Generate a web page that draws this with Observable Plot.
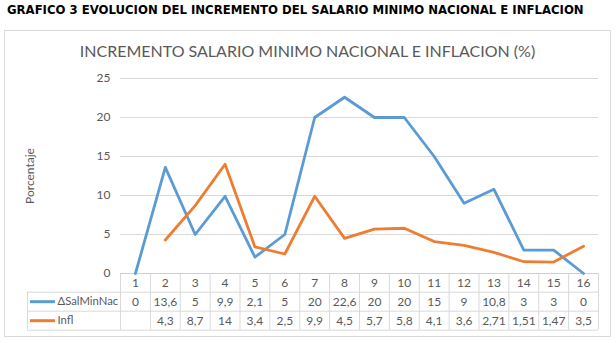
<!DOCTYPE html>
<html><head><meta charset="utf-8">
<script src="https://cdn.jsdelivr.net/npm/d3@7"></script>
<script src="https://cdn.jsdelivr.net/npm/@observablehq/plot@0.6"></script>
<style>
body{margin:0;background:#fff;width:616px;height:343px;position:relative;overflow:hidden;}
#title{position:absolute;left:7px;top:3px;font:bold 11.7px "DejaVu Sans",sans-serif;color:#000;white-space:nowrap;}
#box{position:absolute;left:4px;top:30px;width:607px;height:307px;border:1px solid #d9d9d9;box-sizing:border-box;}
#ctitle{position:absolute;left:4px;width:607px;top:41px;text-align:center;font:16px Lato,sans-serif;color:#595959;white-space:nowrap;}
#chart{position:absolute;left:4px;top:30px;}
</style></head><body>
<div id="title">GRAFICO 3 EVOLUCION DEL INCREMENTO DEL SALARIO MINIMO NACIONAL E INFLACION</div>
<div id="box"></div>
<div id="ctitle">INCREMENTO SALARIO MINIMO NACIONAL E INFLACION (%)</div>
<div id="chart"></div>
<script>
const categories = [1,2,3,4,5,6,7,8,9,10,11,12,13,14,15,16];
const salMinNac = [0,13.6,5,9.9,2.1,5,20,22.6,20,20,15,9,10.8,3,3,0];
const infl = [null,4.3,8.7,14,3.4,2.5,9.9,4.5,5.7,5.8,4.1,3.6,2.71,1.51,1.47,3.5];
const yTicks = [0,5,10,15,20,25];
const seriesNames = ["ΔSalMinNac","Infl"];
const yLabel = "Porcentaje";

const colors = ["#5B9BD5","#ED7D31"];
const grid = "#d9d9d9";
const txt = "#595959";
const rows = categories.map((c,i)=>({cat:c, sal:salMinNac[i], infl:infl[i]}));
const bounds = [categories[0]-0.5, ...categories.map(c=>c+0.5)];
const fmt = v => v == null ? "" : String(v).replace(".", ",");

// table geometry (pixels below the zero line)
const r1 = 18.7, r2 = 37.7, r3 = 56.7;
const legendInset = -93;

const plot = Plot.plot({
  width: 607, height: 307,
  marginLeft: 116, marginRight: 13, marginTop: 48, marginBottom: 64,
  style: {background: "transparent", fontFamily: "Lato, sans-serif", fontSize: "12px", color: txt},
  x: {domain: [bounds[0], bounds[bounds.length-1]], axis: null},
  y: {domain: [0, 25], ticks: yTicks, tickSize: 0, tickPadding: 10, label: null},
  marks: [
    Plot.ruleY(yTicks.filter(t=>t>0), {stroke: grid, strokeWidth: 1}),
    Plot.ruleY([0], {stroke: "#cfcfcf"}),
    // table grid
    Plot.ruleY([0], {dy: r1, insetLeft: legendInset, stroke: grid}),
    Plot.ruleY([0], {dy: r2, insetLeft: legendInset, stroke: grid}),
    Plot.ruleY([0], {dy: r3, insetLeft: legendInset, stroke: grid}),
    Plot.ruleX(bounds, {y1: 0, y2: 0, insetBottom: -r3, stroke: grid}),
    Plot.ruleX([bounds[0]], {y1: 0, y2: 0, dx: legendInset, insetTop: r1, insetBottom: -r3, stroke: grid}),
    // series
    Plot.line(rows, {x: "cat", y: "sal", stroke: colors[0], strokeWidth: 2.8, strokeLinejoin: "round"}),
    Plot.line(rows.filter(d=>d.infl!=null), {x: "cat", y: "infl", stroke: colors[1], strokeWidth: 2.8, strokeLinejoin: "round"}),
    // table text
    Plot.text(rows, {x: "cat", y: 0, text: d=>String(d.cat), dy: 9.4, fill: txt}),
    Plot.text(rows, {x: "cat", y: 0, text: d=>fmt(d.sal), dy: 28.3, fill: txt}),
    Plot.text(rows, {x: "cat", y: 0, text: d=>fmt(d.infl), dy: 47.3, fill: txt}),
    // legend column
    Plot.ruleY([0], {dy: r1 + 9.5, insetLeft: -90, insetRight: 543, stroke: colors[0], strokeWidth: 3}),
    Plot.ruleY([0], {dy: r2 + 9.5, insetLeft: -90, insetRight: 543, stroke: colors[1], strokeWidth: 3}),
    Plot.text([seriesNames[0]], {frameAnchor: "left", y: 0, dy: 28.3, dx: -63, textAnchor: "start", text: d=>d, fill: txt, fontSize: 11.3}),
    Plot.text([seriesNames[1]], {frameAnchor: "left", y: 0, dy: 47.3, dx: -63, textAnchor: "start", text: d=>d, fill: txt, fontSize: 11.3}),
    // y label
    Plot.text([yLabel], {frameAnchor: "left", dx: -90, rotate: -90, textAnchor: "middle", text: d=>d, fill: txt})
  ]
});
document.getElementById("chart").appendChild(plot);
</script>
</body></html>
